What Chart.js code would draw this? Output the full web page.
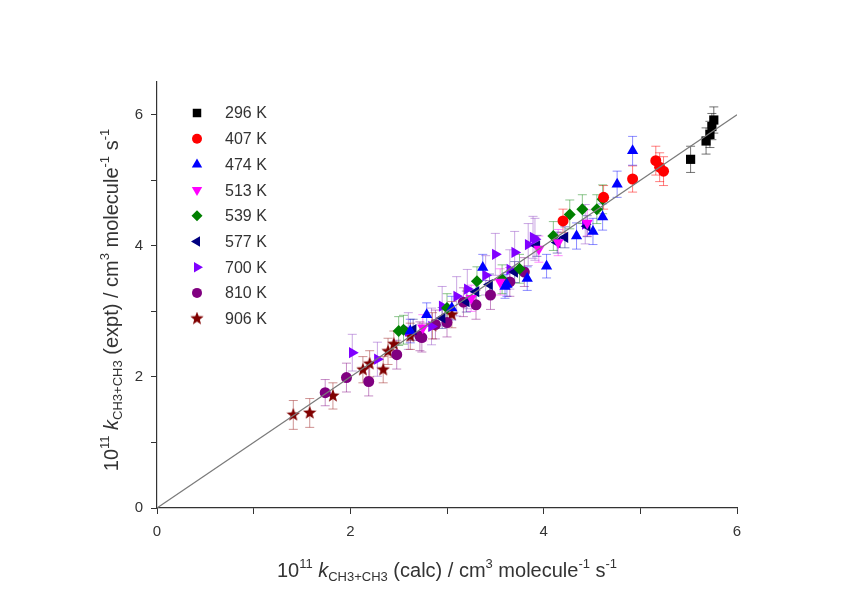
<!DOCTYPE html>
<html>
<head>
<meta charset="utf-8">
<script src="https://cdn.jsdelivr.net/npm/chart.js@4"></script>
<style>
    body { margin: 0; background: #ffffff; }
    canvas { display: block; }
</style>
</head>
<body>
<canvas id="kplot" width="846" height="605"></canvas>
<script>
// series labels
const temps = ["296 K", "407 K", "474 K", "513 K", "539 K", "577 K", "700 K", "810 K", "906 K"];

// k(calc), k(expt) and error, all in 1e-11 cm3 molecule-1 s-1
const x296 = [5.52, 5.68, 5.72, 5.74, 5.76];
const y296 = [5.32, 5.60, 5.70, 5.82, 5.92];
const e296 = [0.20, 0.20, 0.20, 0.20, 0.20];

const x407 = [4.20, 4.62, 4.92, 5.16, 5.20, 5.24];
const y407 = [4.38, 4.74, 5.02, 5.30, 5.20, 5.14];
const e407 = [0.18, 0.18, 0.20, 0.22, 0.22, 0.22];

const x474 = [2.62, 2.79, 3.05, 3.37, 3.60, 3.62, 3.83, 4.03, 4.34, 4.51, 4.61, 4.76, 4.92];
const y474 = [2.70, 2.95, 3.05, 3.67, 3.38, 3.41, 3.50, 3.69, 4.15, 4.22, 4.44, 4.94, 5.45];
const e474 = [0.18, 0.18, 0.18, 0.20, 0.18, 0.18, 0.18, 0.18, 0.20, 0.20, 0.20, 0.20, 0.22];

const x513 = [2.75, 3.25, 3.55, 3.95, 4.15, 4.45];
const y513 = [2.75, 3.20, 3.45, 3.95, 4.05, 4.35];
const e513 = [0.20, 0.20, 0.20, 0.20, 0.20, 0.20];

const x539 = [2.50, 2.55, 3.00, 3.31, 3.57, 3.75, 4.10, 4.27, 4.40, 4.55, 4.61];
const y539 = [2.70, 2.72, 3.05, 3.46, 3.49, 3.65, 4.15, 4.48, 4.56, 4.56, 4.71];
const e539 = [0.22, 0.22, 0.22, 0.22, 0.22, 0.22, 0.22, 0.22, 0.22, 0.22, 0.22];

const x577 = [2.65, 2.95, 3.20, 3.30, 3.44, 3.70, 3.93, 4.14, 4.22, 4.45];
const y577 = [2.72, 2.90, 3.15, 3.30, 3.41, 3.60, 4.00, 4.05, 4.13, 4.30];
const e577 = [0.16, 0.16, 0.16, 0.16, 0.16, 0.16, 0.16, 0.16, 0.16, 0.16];

const x700 = [2.02, 2.28, 2.60, 2.84, 2.95, 3.10, 3.21, 3.40, 3.50, 3.65, 3.70, 3.84, 3.89, 3.91, 4.43];
const y700 = [2.37, 2.27, 2.70, 2.77, 3.08, 3.23, 3.34, 3.55, 3.87, 3.64, 3.90, 4.02, 4.13, 4.10, 4.33];
const e700 = [0.28, 0.26, 0.28, 0.28, 0.30, 0.30, 0.30, 0.30, 0.32, 0.30, 0.32, 0.32, 0.32, 0.32, 0.30];

const x810 = [1.74, 1.96, 2.19, 2.48, 2.72, 2.74, 2.88, 3.00, 3.17, 3.30, 3.45, 3.65, 3.80];
const y810 = [1.76, 1.99, 1.93, 2.34, 2.62, 2.60, 2.80, 2.83, 3.14, 3.10, 3.25, 3.45, 3.60];
const e810 = [0.20, 0.22, 0.22, 0.22, 0.22, 0.22, 0.22, 0.22, 0.22, 0.22, 0.22, 0.22, 0.22];

const x906 = [1.41, 1.58, 1.82, 2.13, 2.20, 2.34, 2.39, 2.45, 2.62, 2.85, 3.05];
const y906 = [1.42, 1.45, 1.71, 2.11, 2.20, 2.11, 2.39, 2.50, 2.62, 2.78, 2.95];
const e906 = [0.22, 0.22, 0.20, 0.20, 0.20, 0.20, 0.20, 0.20, 0.20, 0.20, 0.20];

// the 1:1 line
const lineX = [0, 6];
const lineY = [0, 6];

const xTicks = [0, 2, 4, 6];
const yTicks = [0, 2, 4, 6];

// filled five point star, used as a point style
function makeStar(color, size) {
    let c = document.createElement('canvas');
    c.width = size; c.height = size;
    let g = c.getContext('2d');
    let r = size / 2, ri = r * 0.42;
    g.beginPath();
    for (let i = 0; i < 10; i++) {
        let rr = i % 2 === 0 ? r : ri;
        let a = -Math.PI / 2 + i * Math.PI / 5;
        g.lineTo(r + rr * Math.cos(a), r + rr * Math.sin(a));
    }
    g.closePath();
    g.fillStyle = color;
    g.fill();
    return c;
}

function pts(xs, ys) {
    return xs.map((v, i) => ({x: v, y: ys[i]}));
}

const series = [
    {x: x296, y: y296, e: e296, color: '#000000', style: 'rect', rot: 0, r: 6.5, bar: 'rgba(0,0,0,0.55)'},
    {x: x407, y: y407, e: e407, color: '#ff0000', style: 'circle', rot: 0, r: 5.5, bar: 'rgba(255,0,0,0.5)'},
    {x: x474, y: y474, e: e474, color: '#0000ff', style: 'triangle', rot: 0, r: 6.5, bar: 'rgba(0,0,255,0.45)'},
    {x: x513, y: y513, e: e513, color: '#ff00ff', style: 'triangle', rot: 180, r: 6.5, bar: 'rgba(255,0,255,0.45)'},
    {x: x539, y: y539, e: e539, color: '#008000', style: 'rectRot', rot: 0, r: 6, bar: 'rgba(0,128,0,0.45)'},
    {x: x577, y: y577, e: e577, color: '#000080', style: 'triangle', rot: 270, r: 6.5, bar: 'rgba(0,0,128,0.45)'},
    {x: x700, y: y700, e: e700, color: '#8000ff', style: 'triangle', rot: 90, r: 6.5, bar: 'rgba(150,80,200,0.5)'},
    {x: x810, y: y810, e: e810, color: '#800080', style: 'circle', rot: 0, r: 5.5, bar: 'rgba(128,0,128,0.45)'},
    {x: x906, y: y906, e: e906, color: '#800000', style: makeStar('#800000', 14), rot: 0, r: 7, bar: 'rgba(160,40,40,0.5)'}
];

let datasets = [{
    type: 'line',
    label: '1:1',
    data: pts(lineX, lineY),
    borderColor: '#7a7a7a',
    borderWidth: 1.2,
    pointRadius: 0,
    fill: false
}];
series.forEach((s, i) => {
    datasets.push({
        type: 'scatter',
        label: temps[i],
        data: pts(s.x, s.y),
        errs: s.e,
        barColor: s.bar,
        backgroundColor: s.color,
        borderColor: s.color,
        borderWidth: 0,
        pointStyle: s.style,
        rotation: s.rot,
        pointRadius: s.r
    });
});

const font = 'Arial, "Liberation Sans", sans-serif';

// vertical error bars with caps, drawn under the symbols
const errorBars = {
    id: 'errorBars',
    beforeDatasetsDraw(chart) {
        let ctx = chart.ctx, xs = chart.scales.x, ys = chart.scales.y;
        ctx.save();
        ctx.lineWidth = 1;
        chart.data.datasets.forEach(ds => {
            if (!ds.errs) return;
            ctx.strokeStyle = ds.barColor;
            ds.data.forEach((p, i) => {
                let px = xs.getPixelForValue(p.x);
                let top = ys.getPixelForValue(p.y + ds.errs[i]);
                let bot = ys.getPixelForValue(p.y - ds.errs[i]);
                ctx.beginPath();
                ctx.moveTo(px, top); ctx.lineTo(px, bot);
                ctx.moveTo(px - 4.5, top); ctx.lineTo(px + 4.5, top);
                ctx.moveTo(px - 4.5, bot); ctx.lineTo(px + 4.5, bot);
                ctx.stroke();
            });
        });
        ctx.restore();
    }
};

// text made of pieces with super/subscripts
function richText(ctx, parts, cx, cy, angle) {
    ctx.save();
    ctx.translate(cx, cy);
    ctx.rotate(angle);
    let total = 0;
    parts.forEach(p => {
        ctx.font = (p.it ? 'italic ' : '') + p.s + 'px ' + font;
        p.w = ctx.measureText(p.t).width;
        total += p.w;
    });
    let x = -total / 2;
    ctx.fillStyle = '#333333';
    ctx.textBaseline = 'alphabetic';
    parts.forEach(p => {
        ctx.font = (p.it ? 'italic ' : '') + p.s + 'px ' + font;
        ctx.fillText(p.t, x, 7 + (p.dy || 0));
        x += p.w;
    });
    ctx.restore();
}

function titleParts(word) {
    return [
        {t: '10', s: 20}, {t: '11', s: 13, dy: -9}, {t: ' ', s: 20},
        {t: 'k', s: 20, it: true}, {t: 'CH3+CH3', s: 13, dy: 4},
        {t: ' (' + word + ') / cm', s: 20}, {t: '3', s: 13, dy: -9},
        {t: ' molecule', s: 20}, {t: '-1', s: 13, dy: -9},
        {t: ' s', s: 20}, {t: '-1', s: 13, dy: -9}
    ];
}

// axis titles and the legend
const decor = {
    id: 'decor',
    afterDraw(chart) {
        let ctx = chart.ctx;
        richText(ctx, titleParts('calc'), 447, 570, 0);
        richText(ctx, titleParts('expt'), 111, 300, -Math.PI / 2);

        ctx.save();
        ctx.font = '16px ' + font;
        ctx.textBaseline = 'middle';
        series.forEach((s, i) => {
            let y = 113 + i * 25.7;
            ctx.fillStyle = s.color;
            ctx.strokeStyle = s.color;
            Chart.helpers.drawPoint(ctx, {pointStyle: s.style, rotation: s.rot, radius: s.r - 0.5, borderWidth: 0}, 197, y);
            ctx.fillStyle = '#333333';
            ctx.fillText(temps[i], 225, y + 1);
        });
        ctx.restore();
    }
};

let kplot = document.getElementById('kplot').getContext('2d');
new Chart(kplot, {
    data: { datasets: datasets },
    plugins: [errorBars, decor],
    options: {
        responsive: false,
        animation: false,
        layout: {
            padding: {left: 97, right: 109, top: 82, bottom: 57}
        },
        plugins: {
            legend: { display: false },
            tooltip: { enabled: false }
        },
        scales: {
            x: {
                type: 'linear',
                min: 0,
                max: 6,
                afterFit: scale => { scale.height = 40; },
                ticks: {
                    stepSize: 1,
                    autoSkip: false,
                    maxRotation: 0,
                    padding: 9,
                    color: '#333333',
                    font: {size: 15, family: font},
                    callback: v => xTicks.includes(v) ? v : ''
                },
                grid: {
                    drawOnChartArea: false,
                    tickLength: 6,
                    tickColor: '#333333'
                },
                border: { color: '#333333', width: 1.2 }
            },
            y: {
                type: 'linear',
                min: 0,
                max: 6.5,
                afterFit: scale => { scale.width = 60; },
                afterBuildTicks: scale => {
                    scale.ticks = [0, 1, 2, 3, 4, 5, 6].map(v => ({value: v}));
                },
                ticks: {
                    autoSkip: false,
                    padding: 8,
                    color: '#333333',
                    font: {size: 15, family: font},
                    callback: v => yTicks.includes(v) ? v : ''
                },
                grid: {
                    drawOnChartArea: false,
                    tickLength: 6,
                    tickColor: '#333333'
                },
                border: { color: '#333333', width: 1.2 }
            }
        }
    }
});
</script>
</body>
</html>
